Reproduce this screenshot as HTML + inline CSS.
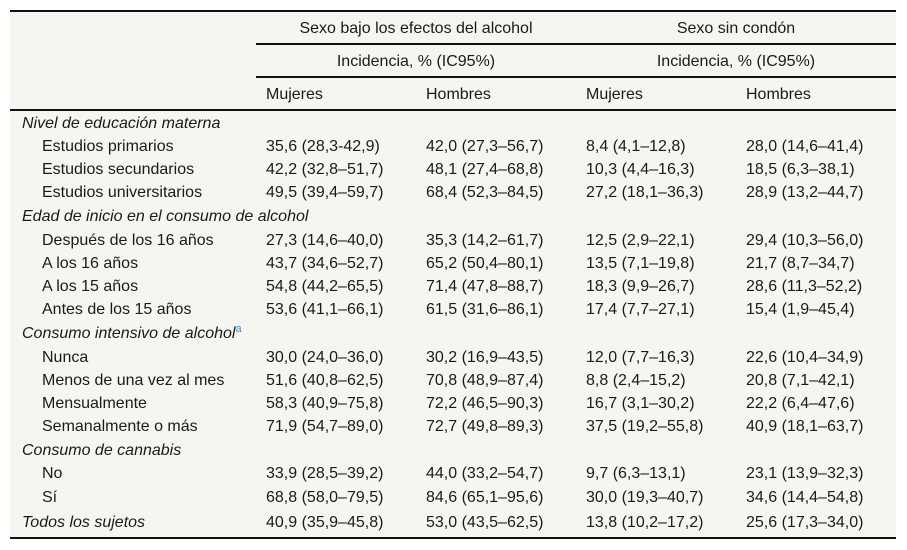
<!DOCTYPE html>
<html><head><meta charset="utf-8">
<style>
body{margin:0;width:907px;height:550px;background:#fff;position:relative;font-family:"Liberation Sans",sans-serif;font-size:16px;color:#1a1a1a;overflow:hidden}
#box{position:absolute;left:10px;top:10px;width:886px;height:529px;background:#f7f5f0}
.l{position:absolute;height:2px;background:#111}
.t{position:absolute;white-space:nowrap;line-height:18px}
.c{text-align:center}
i{font-style:italic}
sup{color:#3a8fd0;font-size:11px;vertical-align:6px;line-height:0}
</style></head><body>
<div id="box"></div>
<div class="l" style="left:10px;top:10px;width:886px"></div>
<div class="l" style="left:256px;top:43px;width:640px"></div>
<div class="l" style="left:256px;top:76px;width:640px"></div>
<div class="l" style="left:10px;top:109px;width:886px"></div>
<div class="l" style="left:10px;top:537px;width:886px"></div>
<div class="t c" style="left:256px;top:20px;width:320px">Sexo bajo los efectos del alcohol</div>
<div class="t c" style="left:576px;top:20px;width:320px">Sexo sin condón</div>
<div class="t c" style="left:256px;top:53px;width:320px">Incidencia, % (IC95%)</div>
<div class="t c" style="left:576px;top:53px;width:320px">Incidencia, % (IC95%)</div>
<div class="t" style="left:266px;top:86px">Mujeres</div>
<div class="t" style="left:426px;top:86px">Hombres</div>
<div class="t" style="left:586px;top:86px">Mujeres</div>
<div class="t" style="left:746px;top:86px">Hombres</div>
<div id="rows"></div>
<script>
const rows=[
["h","Nivel de educación materna",122],
["r","Estudios primarios",145,"35,6 (28,3-42,9)","42,0 (27,3–56,7)","8,4 (4,1–12,8)","28,0 (14,6–41,4)"],
["r","Estudios secundarios",168,"42,2 (32,8–51,7)","48,1 (27,4–68,8)","10,3 (4,4–16,3)","18,5 (6,3–38,1)"],
["r","Estudios universitarios",191,"49,5 (39,4–59,7)","68,4 (52,3–84,5)","27,2 (18,1–36,3)","28,9 (13,2–44,7)"],
["h","Edad de inicio en el consumo de alcohol",215],
["r","Después de los 16 años",239,"27,3 (14,6–40,0)","35,3 (14,2–61,7)","12,5 (2,9–22,1)","29,4 (10,3–56,0)"],
["r","A los 16 años",262,"43,7 (34,6–52,7)","65,2 (50,4–80,1)","13,5 (7,1–19,8)","21,7 (8,7–34,7)"],
["r","A los 15 años",285,"54,8 (44,2–65,5)","71,4 (47,8–88,7)","18,3 (9,9–26,7)","28,6 (11,3–52,2)"],
["r","Antes de los 15 años",308,"53,6 (41,1–66,1)","61,5 (31,6–86,1)","17,4 (7,7–27,1)","15,4 (1,9–45,4)"],
["h","Consumo intensivo de alcohol",332,"a"],
["r","Nunca",356,"30,0 (24,0–36,0)","30,2 (16,9–43,5)","12,0 (7,7–16,3)","22,6 (10,4–34,9)"],
["r","Menos de una vez al mes",379,"51,6 (40,8–62,5)","70,8 (48,9–87,4)","8,8 (2,4–15,2)","20,8 (7,1–42,1)"],
["r","Mensualmente",402,"58,3 (40,9–75,8)","72,2 (46,5–90,3)","16,7 (3,1–30,2)","22,2 (6,4–47,6)"],
["r","Semanalmente o más",425,"71,9 (54,7–89,0)","72,7 (49,8–89,3)","37,5 (19,2–55,8)","40,9 (18,1–63,7)"],
["h","Consumo de cannabis",449],
["r","No",472,"33,9 (28,5–39,2)","44,0 (33,2–54,7)","9,7 (6,3–13,1)","23,1 (13,9–32,3)"],
["r","Sí",496,"68,8 (58,0–79,5)","84,6 (65,1–95,6)","30,0 (19,3–40,7)","34,6 (14,4–54,8)"],
["t","Todos los sujetos",521,"40,9 (35,9–45,8)","53,0 (43,5–62,5)","13,8 (10,2–17,2)","25,6 (17,3–34,0)"]
];
const colX=[266,426,586,746];
const host=document.getElementById('rows');
rows.forEach((r)=>{
  const lab=document.createElement('div');
  lab.className='t';
  lab.style.left=(r[0]==='r'?42:22)+'px';
  lab.style.top=(r[2]-7)+'px';
  if(r[0]==='r'){lab.textContent=r[1];}
  else{const it=document.createElement('i');it.textContent=r[1];lab.appendChild(it);
    if(r[0]==='h'&&r[3]){const s=document.createElement('sup');s.textContent=r[3];lab.appendChild(s);}}
  
  
  host.appendChild(lab);
  if(r[0]!=='h'){
    for(let k=0;k<4;k++){
      const c=document.createElement('div');
      c.className='t';
      c.style.left=colX[k]+'px';
      c.style.top=(r[2]-7)+'px';
      c.textContent=r[3+k];
      
      
      host.appendChild(c);
    }
  }
});
</script>
</body></html>
